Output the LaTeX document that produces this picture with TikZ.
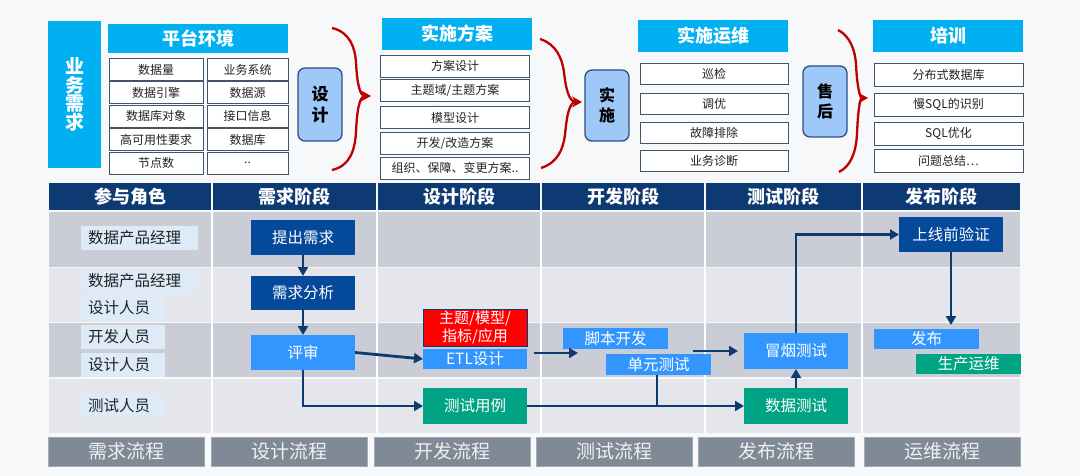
\documentclass[tikz,border=0pt]{standalone}
\usepackage{fontspec}
\setmainfont{Noto Sans CJK SC}
\usetikzlibrary{arrows.meta,calc}
\definecolor{PageBG}{HTML}{F7F8F9}
\definecolor{CyanHead}{HTML}{00B0F0}
\definecolor{CellLine}{HTML}{44546A}
\definecolor{TextDark}{HTML}{222222}
\definecolor{SideBlue}{HTML}{9DC8F8}
\definecolor{SideLine}{HTML}{2F4F7F}
\definecolor{BraceRed}{HTML}{C00000}
\definecolor{NavyHead}{HTML}{0D3A73}
\definecolor{LaneDark}{HTML}{CACDD6}
\definecolor{LaneLight}{HTML}{E5E6EB}
\definecolor{RoleBG}{HTML}{DDEBF8}
\definecolor{DarkStep}{HTML}{05499A}
\definecolor{BlueStep}{HTML}{3396FF}
\definecolor{GreenStep}{HTML}{00A383}
\definecolor{RedStep}{HTML}{FF0000}
\definecolor{FlowGray}{HTML}{7F8A96}
\definecolor{FlowLine}{HTML}{A3ABB4}
\definecolor{FlowText}{HTML}{F0F0F0}
\definecolor{LinkNavy}{HTML}{0E3A6E}

\begin{document}
\begin{tikzpicture}[x=1pt,y=-1pt,
    every node/.style={inner sep=1pt,outer sep=0pt},
    tophead/.style={fill=CyanHead,text=white,minimum height=31,font=\fontsize{18}{20}\selectfont\bfseries},
    cellbox/.style={draw=CellLine,line width=0.9pt,fill=white,text=TextDark,minimum height=22,font=\fontsize{12}{14}\selectfont},
    sidebox/.style={draw=SideLine,line width=1.3pt,fill=SideBlue,rounded corners=7pt,minimum width=44,align=center,text=black,font=\fontsize{17}{21}\selectfont\bfseries},
    brace/.style={draw=BraceRed,line width=2.3pt},
    phasehead/.style={fill=NavyHead,text=white,minimum height=27,font=\fontsize{18}{20}\selectfont\bfseries},
    rolebox/.style={fill=RoleBG,anchor=west,minimum height=24,inner xsep=7pt,align=left,text=TextDark,font=\fontsize{15.5}{18}\selectfont},
    stepbox/.style={text=white,minimum width=104,font=\fontsize{15.5}{17}\selectfont},
    darkstep/.style={stepbox,fill=DarkStep,minimum height=35},
    bluestep/.style={stepbox,fill=BlueStep},
    greenstep/.style={stepbox,fill=GreenStep,minimum height=36},
    flowbox/.style={fill=FlowGray,draw=FlowLine,line width=0.6pt,minimum height=29,minimum width=156,text=FlowText,font=\fontsize{19}{21}\selectfont},
    link/.style={draw=LinkNavy,line width=2.8pt,-{Triangle[length=9pt,width=10pt]}},
    joinline/.style={draw=LinkNavy,line width=2.8pt},
  ]
  \fill[PageBG] (0,0) rectangle (1080,476);
  \useasboundingbox (0,0) rectangle (1080,476);

  % top part: business need and the four groups
  \node[fill=CyanHead,text=white,minimum width=53,minimum height=147,align=center,
        font=\fontsize{19}{18.5}\selectfont\bfseries] (ywxq) at (74.5,94.5) {业\\务\\需\\求};
  \node[tophead,minimum width=180,minimum height=29] (pthj) at (198,38.5) {平台环境};
  \foreach \t [count=\i] in {数据量,数据引擎,数据库对象,高可用性要求,节点数}
    \node[cellbox,minimum width=94] (pl\i) at (156,{69.5+23.4*(\i-1)}) {\t};
  \foreach \t [count=\i] in {业务系统,数据源,接口信息,数据库,{..}}
    \node[cellbox,minimum width=81] (pr\i) at (247.5,{69.5+23.4*(\i-1)}) {\t};
  \node[sidebox,minimum height=73] (sj) at (320,104.5) {设\\计};

  \node[tophead,minimum width=150,minimum height=32] (ssfa) at (457,34) {实施方案};
  \foreach \y/\t [count=\i] in {66/方案设计,90.5/{主题域/主题方案},117.5/模型设计,143.5/{开发/改造方案},168/{组织、保障、变更方案..}}
    \node[cellbox,minimum width=149] (fa\i) at (455,\y) {\t};
  \node[sidebox,minimum height=71,font=\fontsize{16}{20}\selectfont\bfseries] (ss) at (607,105.5) {实\\施};

  \node[tophead,minimum width=150,minimum height=32] (ssyw) at (713,36) {实施运维};
  \foreach \y/\t [count=\i] in {73.5/巡检,103.5/调优,132.5/故障排除,160.5/业务诊断}
    \node[cellbox,minimum width=148,minimum height=21] (yw\i) at (714,\y) {\t};
  \node[sidebox,minimum height=71,font=\fontsize{16}{20}\selectfont\bfseries] (sh) at (825,101.5) {售\\后};

  \node[tophead,minimum width=150,minimum height=32] (px) at (948,36) {培训};
  \foreach \y/\t [count=\i] in {75/分布式数据库,105/慢SQL的识别,133.5/SQL优化,160.5/{问题总结\ldots}}
    \node[cellbox,minimum width=149,minimum height=23] (pxl\i) at (948.5,\y) {\t};

  % red braces
  \coordinate (b1t) at (332,28);  \coordinate (b1m) at (371,96);  \coordinate (b1b) at (332,170);
  \coordinate (b2t) at (540,39);  \coordinate (b2m) at (582,102); \coordinate (b2b) at (541,168);
  \coordinate (b3t) at (838,30);  \coordinate (b3m) at (868,98);  \coordinate (b3b) at (839,172);
  \draw[brace,-{Stealth[length=10pt,width=11pt]}] (b1t) .. controls (350,32) and (355,48) .. (356,62) .. controls (357,84) and (360,96) .. (b1m);
  \draw[brace,shorten >=6pt] (b1b) .. controls (350,166) and (355,150) .. (356,132) .. controls (357,108) and (360,96) .. (b1m);
  \draw[brace,-{Stealth[length=10pt,width=11pt]}] (b2t) .. controls (556,44) and (562,58) .. (564,72) .. controls (566,92) and (570,102) .. (b2m);
  \draw[brace,shorten >=6pt] (b2b) .. controls (557,163) and (563,150) .. (565,135) .. controls (567,112) and (570,102) .. (b2m);
  \draw[brace,-{Stealth[length=10pt,width=11pt]}] (b3t) .. controls (850,36) and (855,50) .. (856,64) .. controls (857,86) and (860,98) .. (b3m);
  \draw[brace,shorten >=6pt] (b3b) .. controls (851,166) and (856,152) .. (857,134) .. controls (858,110) and (860,98) .. (b3m);

  % swim lanes
  \foreach \t/\b/\c in {212/267/LaneDark,268/322/LaneLight,323/377/LaneDark,379/433/LaneLight}
    \fill[\c] (49,\t) rectangle (1020,\b);
  \foreach \x in {212,377,541,705,862}
    \draw[white,line width=1.8pt] (\x,212) -- (\x,433);
  \foreach \x/\w/\t [count=\i] in {130/162/参与角色,294.5/163/需求阶段,459/162/设计阶段,623/162/开发阶段,783.5/155/测试阶段,941.5/157/发布阶段}
    \node[phasehead,minimum width=\w] (ph\i) at (\x,196.5) {\t};

  % roles
  \node[rolebox,text width=103] (r1) at (81,238) {数据产品经理};
  \node[rolebox,text width=103] (r2) at (81,280.5) {数据产品经理};
  \node[rolebox,text width=70] (r3) at (81,308) {设计人员};
  \node[rolebox,text width=70] (r4) at (81,336.5) {开发人员};
  \node[rolebox,text width=70] (r5) at (81,365) {设计人员};
  \node[rolebox,text width=70] (r6) at (81,406) {测试人员};

  % steps
  \node[darkstep] (tcxq) at (303,237.5) {提出需求};
  \node[darkstep,minimum height=34] (xqfx) at (303,293) {需求分析};
  \node[bluestep,minimum height=35] (ps) at (303,352.5) {评审};
  \node[stepbox,fill=RedStep,draw=NavyHead,line width=0.8pt,minimum height=37,align=center,
        font=\fontsize{15}{18}\selectfont] (ztmx) at (475,327.5) {主题/模型/\\指标/应用};
  \node[bluestep,minimum height=20] (etl) at (475,359) {ETL设计};
  \node[greenstep] (csyl) at (475,406) {测试用例};
  \node[bluestep,minimum width=105,minimum height=21] (jbkf) at (615.5,338.5) {脚本开发};
  \node[bluestep,minimum width=105,minimum height=21] (dycs) at (658.5,364.5) {单元测试};
  \node[bluestep,minimum height=36] (mycs) at (796,351) {冒烟测试};
  \node[greenstep] (sjcs) at (796,406) {数据测试};
  \node[darkstep] (sxqyz) at (951,234.5) {上线前验证};
  \node[bluestep,minimum width=105,minimum height=20] (fb) at (926.5,339) {发布};
  \node[greenstep,minimum width=105,minimum height=20] (scyw) at (968.5,364) {生产运维};

  % connectors
  \coordinate (kfout) at (534,353);
  \coordinate (kfin) at (578,353);
  \coordinate (csout) at (693,351);
  \draw[link] (tcxq) -- (xqfx);
  \draw[link] (xqfx) -- (ps);
  \draw[link] (ps.east) -- (etl.west);
  \draw[link] (ps.south) |- (csyl.west);
  \draw[link] (kfout) -- (kfin);
  \draw[link,shorten >=6pt] (csout) -- (csout -| mycs.west);
  \draw[link] (csyl.east) -- (sjcs.west);
  \draw[joinline] ([xshift=-1.5pt]dycs.south) -- ([xshift=-1.5pt]dycs.south |- csyl.east);
  \draw[link] (sjcs) -- (mycs);
  \draw[link] (mycs.north) |- (sxqyz.west);
  \draw[link,shorten >=4pt] (sxqyz.south) -- (sxqyz.south |- fb.north);

  % flow row
  \foreach \x/\t [count=\i] in {126.5/需求流程,289/设计流程,452/开发流程,614/测试流程,776/发布流程,942/运维流程}
    \node[flowbox] (lc\i) at (\x,451.5) {\t};
\end{tikzpicture}
\end{document}
